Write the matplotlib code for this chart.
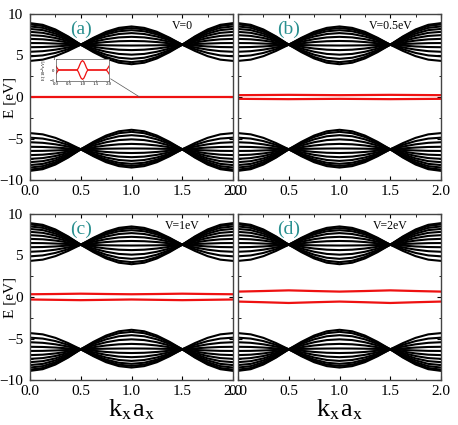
import numpy as np
import matplotlib
matplotlib.use("Agg")
from matplotlib import pyplot as plt
from matplotlib.patches import ConnectionPatch
from matplotlib.ticker import MultipleLocator, FormatStrFormatter

plt.rcParams['font.family'] = ['Liberation Serif', 'DejaVu Serif']
plt.rcParams['mathtext.fontset'] = 'stix'

# kx grid for the first half (0 -> 1), mirrored for 1 -> 2
k_half = [0.0, 0.125, 0.25, 0.375, 0.5, 0.625, 0.75, 0.875, 1.0]

# upper band lines (eV); lower band is the mirror E -> -E
band_lines = [
    [8.90, 8.70, 8.14, 7.30, 6.30, 5.40, 4.64, 4.13, 3.95],
    [8.75, 8.56, 8.03, 7.24, 6.30, 5.50, 4.82, 4.36, 4.20],
    [8.50, 8.33, 7.86, 7.14, 6.30, 5.65, 5.10, 4.73, 4.60],
    [8.20, 8.06, 7.64, 7.03, 6.30, 5.84, 5.45, 5.19, 5.10],
    [7.85, 7.73, 7.40, 6.89, 6.30, 6.05, 5.84, 5.70, 5.65],
    [7.45, 7.36, 7.11, 6.74, 6.30, 6.26, 6.23, 6.21, 6.20],
    [7.00, 6.95, 6.80, 6.57, 6.30, 6.47, 6.62, 6.72, 6.75],
    [6.50, 6.49, 6.44, 6.38, 6.30, 6.66, 6.97, 7.18, 7.25],
    [6.00, 6.02, 6.09, 6.19, 6.30, 6.84, 7.29, 7.59, 7.70],
    [5.45, 5.52, 5.70, 5.97, 6.30, 6.97, 7.54, 7.92, 8.05],
    [4.90, 5.01, 5.31, 5.76, 6.30, 7.07, 7.71, 8.15, 8.30],
    [4.35, 4.50, 4.92, 5.55, 6.30, 7.14, 7.86, 8.33, 8.50],
]

# red in-gap states, kx = 0 .. 2 step 0.25
k_red = [0.0, 0.25, 0.5, 0.75, 1.0, 1.25, 1.5, 1.75, 2.0]
red_a = [[0.0] * 9]
red_b = [[0.22, 0.24, 0.26, 0.24, 0.22, 0.24, 0.26, 0.24, 0.22],
         [-0.22, -0.24, -0.26, -0.24, -0.22, -0.24, -0.26, -0.24, -0.22]]
red_c = [[0.33, 0.36, 0.40, 0.36, 0.33, 0.36, 0.40, 0.36, 0.33],
         [-0.30, -0.34, -0.38, -0.34, -0.30, -0.34, -0.38, -0.34, -0.30]]
red_d = [[0.65, 0.72, 0.80, 0.72, 0.65, 0.72, 0.80, 0.72, 0.65],
         [-0.55, -0.63, -0.72, -0.63, -0.55, -0.63, -0.72, -0.63, -0.55]]

# inset of panel (a), energies in 1e-6 eV
k_inset = [0.0, 0.05, 0.1, 0.8, 0.85, 0.9, 0.95, 1.0, 1.05, 1.1, 1.15, 1.2, 1.9, 1.95, 2.0]
e_inset = [0.35, 0.15, 0.0, 0.0, 0.2, 0.5, 0.75, 0.85, 0.75, 0.5, 0.2, 0.0, 0.0, 0.15, 0.35]

labels = ['(a)', '(b)', '(c)', '(d)']
volt_labels = ['V=0', 'V=0.5eV', 'V=1eV', 'V=2eV']
reds = [red_a, red_b, red_c, red_d]

k_full = k_half + [2.0 - k for k in k_half[::-1][1:]]

fig = plt.figure(figsize=(4.58, 4.25), dpi=100)
W, H = 458.0, 425.0
boxes = [(30, 14), (238, 14), (30, 214), (238, 214)]
axes = []
for i, (x0, y0) in enumerate(boxes):
    ax = fig.add_axes([x0 / W, 1 - (y0 + 166) / H, 203 / W, 166 / H])
    axes.append(ax)
    for line in band_lines:
        e = line + line[::-1][1:]
        ax.plot(k_full, e, color='black', lw=1.5)
        ax.plot(k_full, [-v for v in e], color='black', lw=1.5)
    for r in reds[i]:
        ax.plot(k_red, r, color='#ee1111', lw=1.6)
    ax.set_xlim(0, 2)
    ax.set_ylim(-10, 10)
    ax.xaxis.set_major_locator(MultipleLocator(0.5))
    ax.xaxis.set_minor_locator(MultipleLocator(0.25))
    ax.yaxis.set_major_locator(MultipleLocator(5))
    ax.yaxis.set_minor_locator(MultipleLocator(2.5))
    ax.xaxis.set_major_formatter(FormatStrFormatter('%.1f'))
    ax.tick_params(which='both', direction='in', top=True, right=True, labelsize=11)
    ax.tick_params(which='major', length=3)
    ax.tick_params(which='minor', length=1.8)
    ax.tick_params(axis='y', pad=5)
    for s in ax.spines.values():
        s.set_color('#444444')
        s.set_linewidth(1.0)
    if i % 2 == 0:
        ax.set_ylabel('E [eV]', fontsize=11)
        ax.yaxis.set_label_coords(-0.066, 0.5)
    else:
        ax.set_yticklabels([])
    if i >= 2:
        ax.set_xlabel(r'k$_\mathrm{x}$a$_\mathrm{x}$', fontsize=19, labelpad=0)
    ax.text(0.5, 8.2, labels[i], color='#2a9090', fontsize=14, ha='center', va='center')
    ax.text(1.5, 8.6, volt_labels[i], color='black', fontsize=8.5, ha='center', va='center')

# inset
ins = fig.add_axes([56 / W, 1 - 81 / H, 53 / W, 22 / H])
ins.plot(k_inset, e_inset, color='#ee1111', lw=0.9)
ins.plot(k_inset, [-v for v in e_inset], color='#ee1111', lw=0.9)
ins.set_xlim(0, 2)
ins.set_ylim(-1, 1)
ins.set_xticks([0, 0.5, 1.0, 1.5, 2.0])
ins.xaxis.set_major_formatter(FormatStrFormatter('%.1f'))
ins.set_yticks([-1, 0, 1])
ins.tick_params(direction='in', labelsize=3.5, length=1, pad=1, width=0.4)
ins.set_ylabel(r'E [10$^{-6}$eV]', fontsize=3.2, labelpad=0.5)
for s in ins.spines.values():
    s.set_color('#555555')
    s.set_linewidth(0.5)

con = ConnectionPatch(xyA=(1.03, 0.1), coordsA=ins.transAxes,
                      xyB=(1.08, 0), coordsB=axes[0].transData,
                      color='#555555', lw=0.5)
fig.add_artist(con)

fig.savefig('out.png', dpi=100)
